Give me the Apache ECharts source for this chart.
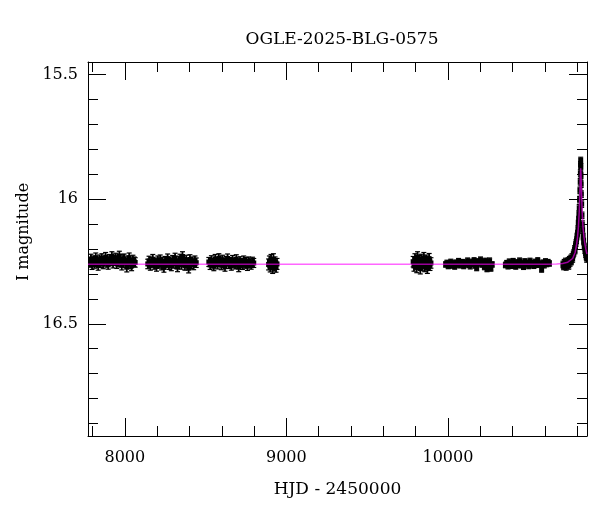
<!DOCTYPE html>
<html>
<head>
<meta charset="utf-8">
<script src="https://cdn.jsdelivr.net/npm/echarts@6/dist/echarts.min.js"></script>
<style>html,body{margin:0;padding:0;background:#fff}#c{width:600px;height:512px}</style>
</head>
<body>
<div id="c"></div>
<script>
// ---- data ----
const title = 'OGLE-2025-BLG-0575';
const xName = 'HJD - 2450000';
const yName = 'I magnitude';
const xMajor = [8000, 9000, 10000];
const xMinor = [7800, 8200, 8400, 8600, 8800, 9200, 9400, 9600, 9800, 10200, 10400, 10600, 10800];
const yMajor = [15.5, 16, 16.5];
const yMinor = [15.6, 15.7, 15.8, 15.9, 16.1, 16.2, 16.3, 16.4, 16.6, 16.7, 16.8, 16.9];

const hjd1 = [7782,7790,7797,7805,7812,7820,7828,7835,7843,7851,7858,7866,7874,7881,7889,7897,7904,7912,7920,7927,7935,7943,7950,7958,7966,7973,7981,7989,7996,8004,8012,8019,8027,8035,8042,8050,8058,8064];
const mag1 = [16.254,16.240,16.263,16.247,16.258,16.235,16.251,16.266,16.243,16.255,16.238,16.260,16.249,16.233,16.254,16.262,16.241,16.248,16.230,16.257,16.244,16.236,16.259,16.250,16.228,16.253,16.265,16.242,16.239,16.256,16.273,16.247,16.235,16.260,16.268,16.244,16.251,16.254];
const hjd2 = [8142,8150,8158,8165,8173,8181,8188,8196,8204,8211,8219,8227,8234,8242,8250,8257,8265,8273,8280,8288,8296,8303,8311,8319,8326,8334,8342,8349,8357,8365,8372,8380,8388,8395,8403,8411,8418,8426,8434,8442];
const mag2 = [16.260,16.248,16.266,16.253,16.241,16.262,16.255,16.270,16.247,16.258,16.243,16.265,16.252,16.274,16.249,16.256,16.239,16.263,16.251,16.268,16.245,16.257,16.236,16.260,16.272,16.248,16.240,16.262,16.230,16.253,16.266,16.244,16.256,16.277,16.242,16.259,16.251,16.264,16.247,16.255];
const hjd3 = [8520,8528,8536,8543,8551,8559,8566,8574,8582,8590,8597,8605,8613,8620,8628,8636,8644,8651,8659,8667,8674,8682,8690,8698,8705,8713,8721,8728,8736,8744,8752,8759,8767,8775,8782,8790,8798];
const mag3 = [16.252,16.264,16.245,16.257,16.269,16.240,16.253,16.262,16.237,16.250,16.265,16.243,16.256,16.271,16.248,16.238,16.260,16.252,16.267,16.244,16.255,16.262,16.241,16.258,16.273,16.249,16.256,16.264,16.246,16.259,16.252,16.268,16.250,16.257,16.263,16.251,16.256];
const hjd4 = [8890,8895,8900,8905,8910,8915,8920,8925,8930,8936,8942];
const mag4 = [16.262,16.250,16.270,16.244,16.258,16.276,16.241,16.266,16.254,16.271,16.260];
const hjd5 = [9785,9790,9796,9801,9807,9812,9818,9823,9829,9834,9840,9845,9851,9856,9862,9867,9873,9878,9884,9889,9895];
const mag5 = [16.251,16.268,16.240,16.258,16.274,16.232,16.261,16.247,16.279,16.242,16.264,16.254,16.235,16.270,16.258,16.245,16.277,16.252,16.239,16.265,16.256];
const hjd6 = [9986,9994,10002,10010,10018,10026,10034,10042,10050,10058,10066,10074,10082,10090,10098,10106,10114,10122,10130,10138,10146,10154,10162,10170,10178,10186,10194,10202,10210,10218,10226,10234,10242,10250,10258,10266,10274];
const mag6 = [16.262,16.256,16.268,16.259,16.252,16.266,16.258,16.270,16.255,16.262,16.249,16.265,16.259,16.253,16.268,16.261,16.256,16.247,16.263,16.269,16.252,16.259,16.246,16.266,16.276,16.250,16.257,16.243,16.262,16.251,16.272,16.248,16.280,16.258,16.247,16.278,16.262];
const hjd7 = [10356,10364,10372,10380,10388,10396,10404,10412,10420,10428,10436,10444,10452,10460,10468,10476,10484,10492,10500,10508,10516,10524,10532,10540,10548,10556,10564,10572,10580,10588,10596,10604,10612,10620,10628];
const mag7 = [16.264,16.257,16.269,16.251,16.261,16.267,16.249,16.259,16.270,16.254,16.263,16.247,16.265,16.258,16.271,16.250,16.261,16.256,16.268,16.248,16.262,16.257,16.267,16.252,16.263,16.246,16.262,16.259,16.282,16.255,16.265,16.250,16.260,16.253,16.258];
const hjd8 = [10712,10716,10720,10724,10728,10732,10736,10740,10744,10748,10752,10756,10760,10764,10768,10772,10776,10780,10784,10787,10790,10793,10796,10799,10802,10805,10807,10809,10811,10813,10815,10817,10818,10819,10820,10821,10822,10823,10824,10825,10826,10828,10830,10832,10834,10837,10840,10844,10848,10852,10856,10859];
const mag8 = [16.262,16.270,16.255,16.266,16.250,16.272,16.258,16.262,16.248,16.268,16.243,16.256,16.238,16.250,16.232,16.240,16.222,16.215,16.200,16.206,16.185,16.176,16.165,16.150,16.138,16.120,16.098,16.082,16.060,16.035,16.002,15.965,16.045,15.930,15.895,15.862,15.845,15.870,15.905,15.940,15.980,16.020,16.065,16.100,16.125,16.150,16.170,16.190,16.205,16.220,16.230,16.240];
const seasonErr = [0.019, 0.019, 0.018, 0.022, 0.021, 0.011, 0.011, 0.013];

const modelT = [7772,10600,10672,10710,10742,10772,10787,10796,10802,10808,10813,10817,10820,10822,10824,10827,10831,10836,10842,10848,10857,10861];
const modelM = [16.261,16.261,16.260,16.258,16.253,16.238,16.215,16.185,16.155,16.110,16.050,15.970,15.900,15.876,15.900,15.970,16.050,16.110,16.150,16.180,16.210,16.220];

// ---- build chart ----
const X_MIN = 7772, X_MAX = 10861, Y_MIN = 15.45, Y_MAX = 16.95;
const FONT = 'DejaVu Serif';
const seasons = [[hjd1,mag1],[hjd2,mag2],[hjd3,mag3],[hjd4,mag4],[hjd5,mag5],[hjd6,mag6],[hjd7,mag7],[hjd8,mag8]];
const points = [];
seasons.forEach(function (s, k) {
  s[0].forEach(function (t, i) { points.push([t, s[1][i], seasonErr[k]]); });
});
const model = modelT.map(function (t, i) { return [t, modelM[i]]; });

function renderErr(params, api) {
  const t = api.value(0), m = api.value(1), e = api.value(2);
  const p = api.coord([t, m]);
  const a = api.coord([t, m - e]);
  const b = api.coord([t, m + e]);
  const hw = 2.5;
  const st = { stroke: '#000', lineWidth: 1.8 };
  const cs = { stroke: '#000', lineWidth: 1.2 };
  return {
    type: 'group',
    children: [
      { type: 'line', shape: { x1: p[0], y1: a[1], x2: p[0], y2: b[1] }, style: st },
      { type: 'line', shape: { x1: p[0] - hw, y1: a[1], x2: p[0] + hw, y2: a[1] }, style: cs },
      { type: 'line', shape: { x1: p[0] - hw, y1: b[1], x2: p[0] + hw, y2: b[1] }, style: cs },
      { type: 'rect', shape: { x: p[0] - 2.5, y: p[1] - 2.5, width: 5, height: 5 }, style: { fill: '#000' } }
    ]
  };
}

function xAxisDef(pos, ticks, len, withLabels, withLine) {
  return {
    type: 'value', position: pos, min: X_MIN, max: X_MAX,
    axisLine: { show: withLine, onZero: false, lineStyle: { color: '#000', width: 1 } },
    axisTick: { show: true, inside: true, length: len, customValues: ticks, lineStyle: { color: '#000', width: 1 } },
    axisLabel: withLabels ? { show: true, customValues: ticks, margin: 14, color: '#000', fontFamily: FONT, fontSize: 16,
      formatter: function (v) { return String(v); } } : { show: false },
    splitLine: { show: false },
    name: withLabels ? xName : '', nameLocation: 'middle', nameGap: 45,
    nameTextStyle: { color: '#000', fontFamily: FONT, fontSize: 17 }
  };
}
function yAxisDef(pos, ticks, len, withLabels, withLine) {
  return {
    type: 'value', position: pos, min: Y_MIN, max: Y_MAX, inverse: true,
    axisLine: { show: withLine, onZero: false, lineStyle: { color: '#000', width: 1 } },
    axisTick: { show: true, inside: true, length: len, customValues: ticks, lineStyle: { color: '#000', width: 1 } },
    axisLabel: withLabels ? { show: true, customValues: ticks, margin: 10, color: '#000', fontFamily: FONT, fontSize: 16,
      formatter: function (v) { return String(v); } } : { show: false },
    splitLine: { show: false },
    name: withLabels ? yName : '', nameLocation: 'middle', nameGap: 51, nameRotate: 90,
    nameTextStyle: { color: '#000', fontFamily: FONT, fontSize: 16, padding: [0, 0, 0, 34] }
  };
}

const chart = echarts.init(document.getElementById('c'), null, { renderer: 'canvas' });
chart.setOption({
  animation: false,
  backgroundColor: '#fff',
  title: {
    text: title, left: 337, top: 26, textAlign: 'center',
    textStyle: { color: '#000', fontFamily: FONT, fontSize: 17, fontWeight: 'normal' }
  },
  grid: { left: 88, right: 13, top: 62, bottom: 76, containLabel: false },
  xAxis: [
    xAxisDef('bottom', xMajor, 18, true, true),
    xAxisDef('bottom', xMinor, 10, false, false),
    xAxisDef('top', xMajor, 18, false, true),
    xAxisDef('top', xMinor, 10, false, false)
  ],
  yAxis: [
    yAxisDef('left', yMajor, 18, true, true),
    yAxisDef('left', yMinor, 10, false, false),
    yAxisDef('right', yMajor, 18, false, true),
    yAxisDef('right', yMinor, 10, false, false)
  ],
  series: [
    { type: 'custom', name: 'OGLE I', xAxisIndex: 0, yAxisIndex: 0, renderItem: renderErr,
      data: points, encode: { x: 0, y: 1 }, clip: true, z: 2 },
    { type: 'line', name: 'model', xAxisIndex: 0, yAxisIndex: 0, data: model, showSymbol: false,
      lineStyle: { color: '#ff00ff', width: 1.5, opacity: 0.6 }, z: 3, silent: true }
  ]
});
</script>
</body>
</html>
